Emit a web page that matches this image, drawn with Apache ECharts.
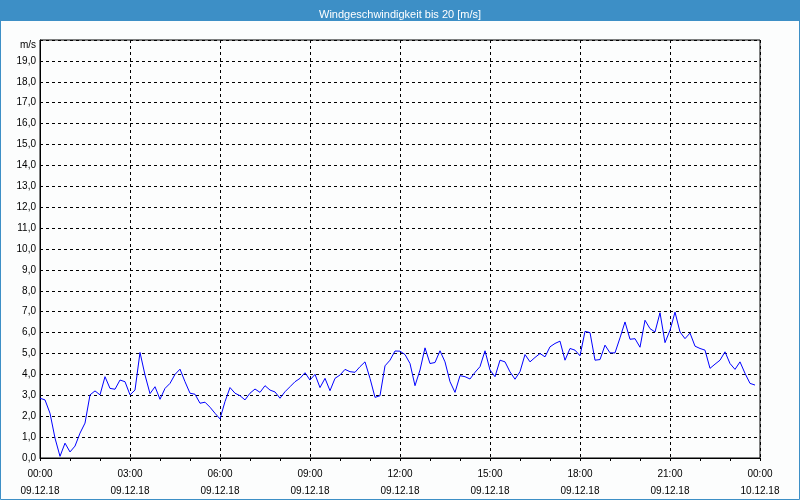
<!DOCTYPE html>
<html>
<head>
<meta charset="utf-8">
<style>html,body{margin:0;padding:0;background:#fff}#c{width:800px;height:500px}</style>
<script src="https://cdn.jsdelivr.net/npm/echarts@6/dist/echarts.min.js"></script>
</head>
<body>
<div id="c"></div>
<script>
var titleText = 'Windgeschwindigkeit bis 20 [m/s]';
var unitLabel = 'm/s';
var startDate = '09.12.18';
var endDate = '10.12.18';
var stepMinutes = 10;
var windSpeed = [
2.86,2.78,2.14,0.95,0.08,0.71,0.29,0.57,1.19,1.67,
3.02,3.21,3.02,3.89,3.33,3.29,3.73,3.65,3.02,3.25,
5.05,3.97,3.08,3.41,2.81,3.33,3.57,4.00,4.25,3.65,
3.10,3.05,2.62,2.67,2.43,2.14,1.87,2.70,3.37,3.10,
2.98,2.78,3.10,3.30,3.14,3.46,3.25,3.16,2.86,3.17,
3.41,3.65,3.81,4.08,3.73,4.00,3.37,3.81,3.22,3.81,
3.97,4.24,4.13,4.10,4.37,4.60,3.81,2.90,2.98,4.41,
4.68,5.12,5.11,4.95,4.52,3.46,4.21,5.27,4.52,4.57,
5.13,4.60,3.65,3.14,3.94,3.89,3.78,4.10,4.37,5.13,
4.21,3.89,4.68,4.60,4.12,3.77,4.13,4.95,4.60,4.81,
5.00,4.84,5.32,5.48,5.59,4.68,5.24,5.16,4.89,6.06,
6.00,4.68,4.71,5.40,5.03,5.03,5.75,6.51,5.68,5.71,
5.30,6.59,6.19,6.03,6.95,5.52,6.11,6.98,6.03,5.71,
5.98,5.35,5.24,5.16,4.29,4.49,4.68,5.08,4.52,4.24,
4.60,4.05,3.57,3.49
];
var seriesData = windSpeed.map(function (v, i) { return [i * stepMinutes, v]; });

function pad(n) { return (n < 10 ? '0' : '') + n; }

var chart = echarts.init(document.getElementById('c'), null, {renderer: 'canvas'});
chart.setOption({
  animation: false,
  backgroundColor: '#fcfdfd',
  textStyle: {fontFamily: 'Liberation Sans'},
  title: {
    text: titleText, left: 'center', top: 4,
    textStyle: {color: '#ffffff', fontSize: 11, fontWeight: 'normal', fontFamily: 'Liberation Sans'}
  },
  graphic: [
    {type: 'rect', z: -1, shape: {x: 0, y: 0, width: 800, height: 21}, style: {fill: '#3d8fc6'}},
    {type: 'rect', z: 100, shape: {x: 0.5, y: 0.5, width: 799, height: 499}, style: {fill: null, stroke: '#3d8fc6', lineWidth: 1}}
  ],
  grid: {left: 40, right: 40, top: 40, bottom: 40, show: true, borderColor: '#000', borderWidth: 1, backgroundColor: 'transparent'},
  xAxis: {
    type: 'value', min: 0, max: 1440, interval: 180,
    axisLine: {show: true, lineStyle: {color: '#000', width: 1}},
    axisTick: {show: true, length: 3, lineStyle: {color: '#000'}},
    minorTick: {show: true, splitNumber: 3, length: 3, lineStyle: {color: '#000'}},
    splitLine: {show: true, lineStyle: {color: '#000', type: [3, 3], width: 1}},
    axisLabel: {
      color: '#000', fontSize: 10, lineHeight: 17, margin: 8,
      formatter: function (v) {
        var h = Math.floor(v / 60) % 24, m = v % 60;
        return pad(h) + ':' + pad(m) + '\n' + (v >= 1440 ? endDate : startDate);
      }
    }
  },
  yAxis: {
    type: 'value', min: 0, max: 20, interval: 1,
    axisLine: {show: true, lineStyle: {color: '#000', width: 1}},
    axisTick: {show: false},
    splitLine: {show: true, lineStyle: {color: '#000', type: [3, 3], width: 1}},
    axisLabel: {
      color: '#000', fontSize: 10, margin: 4,
      rich: {u: {color: '#000', fontSize: 10, padding: [10, 0, 0, 0]}},
      formatter: function (v) { return v === 20 ? '{u|' + unitLabel + '}' : v.toFixed(1).replace('.', ','); }
    }
  },
  series: [{
    type: 'line', data: seriesData, showSymbol: false, symbol: 'none',
    lineStyle: {color: '#0000ff', width: 1}, z: 5
  }]
});
</script>
</body>
</html>
